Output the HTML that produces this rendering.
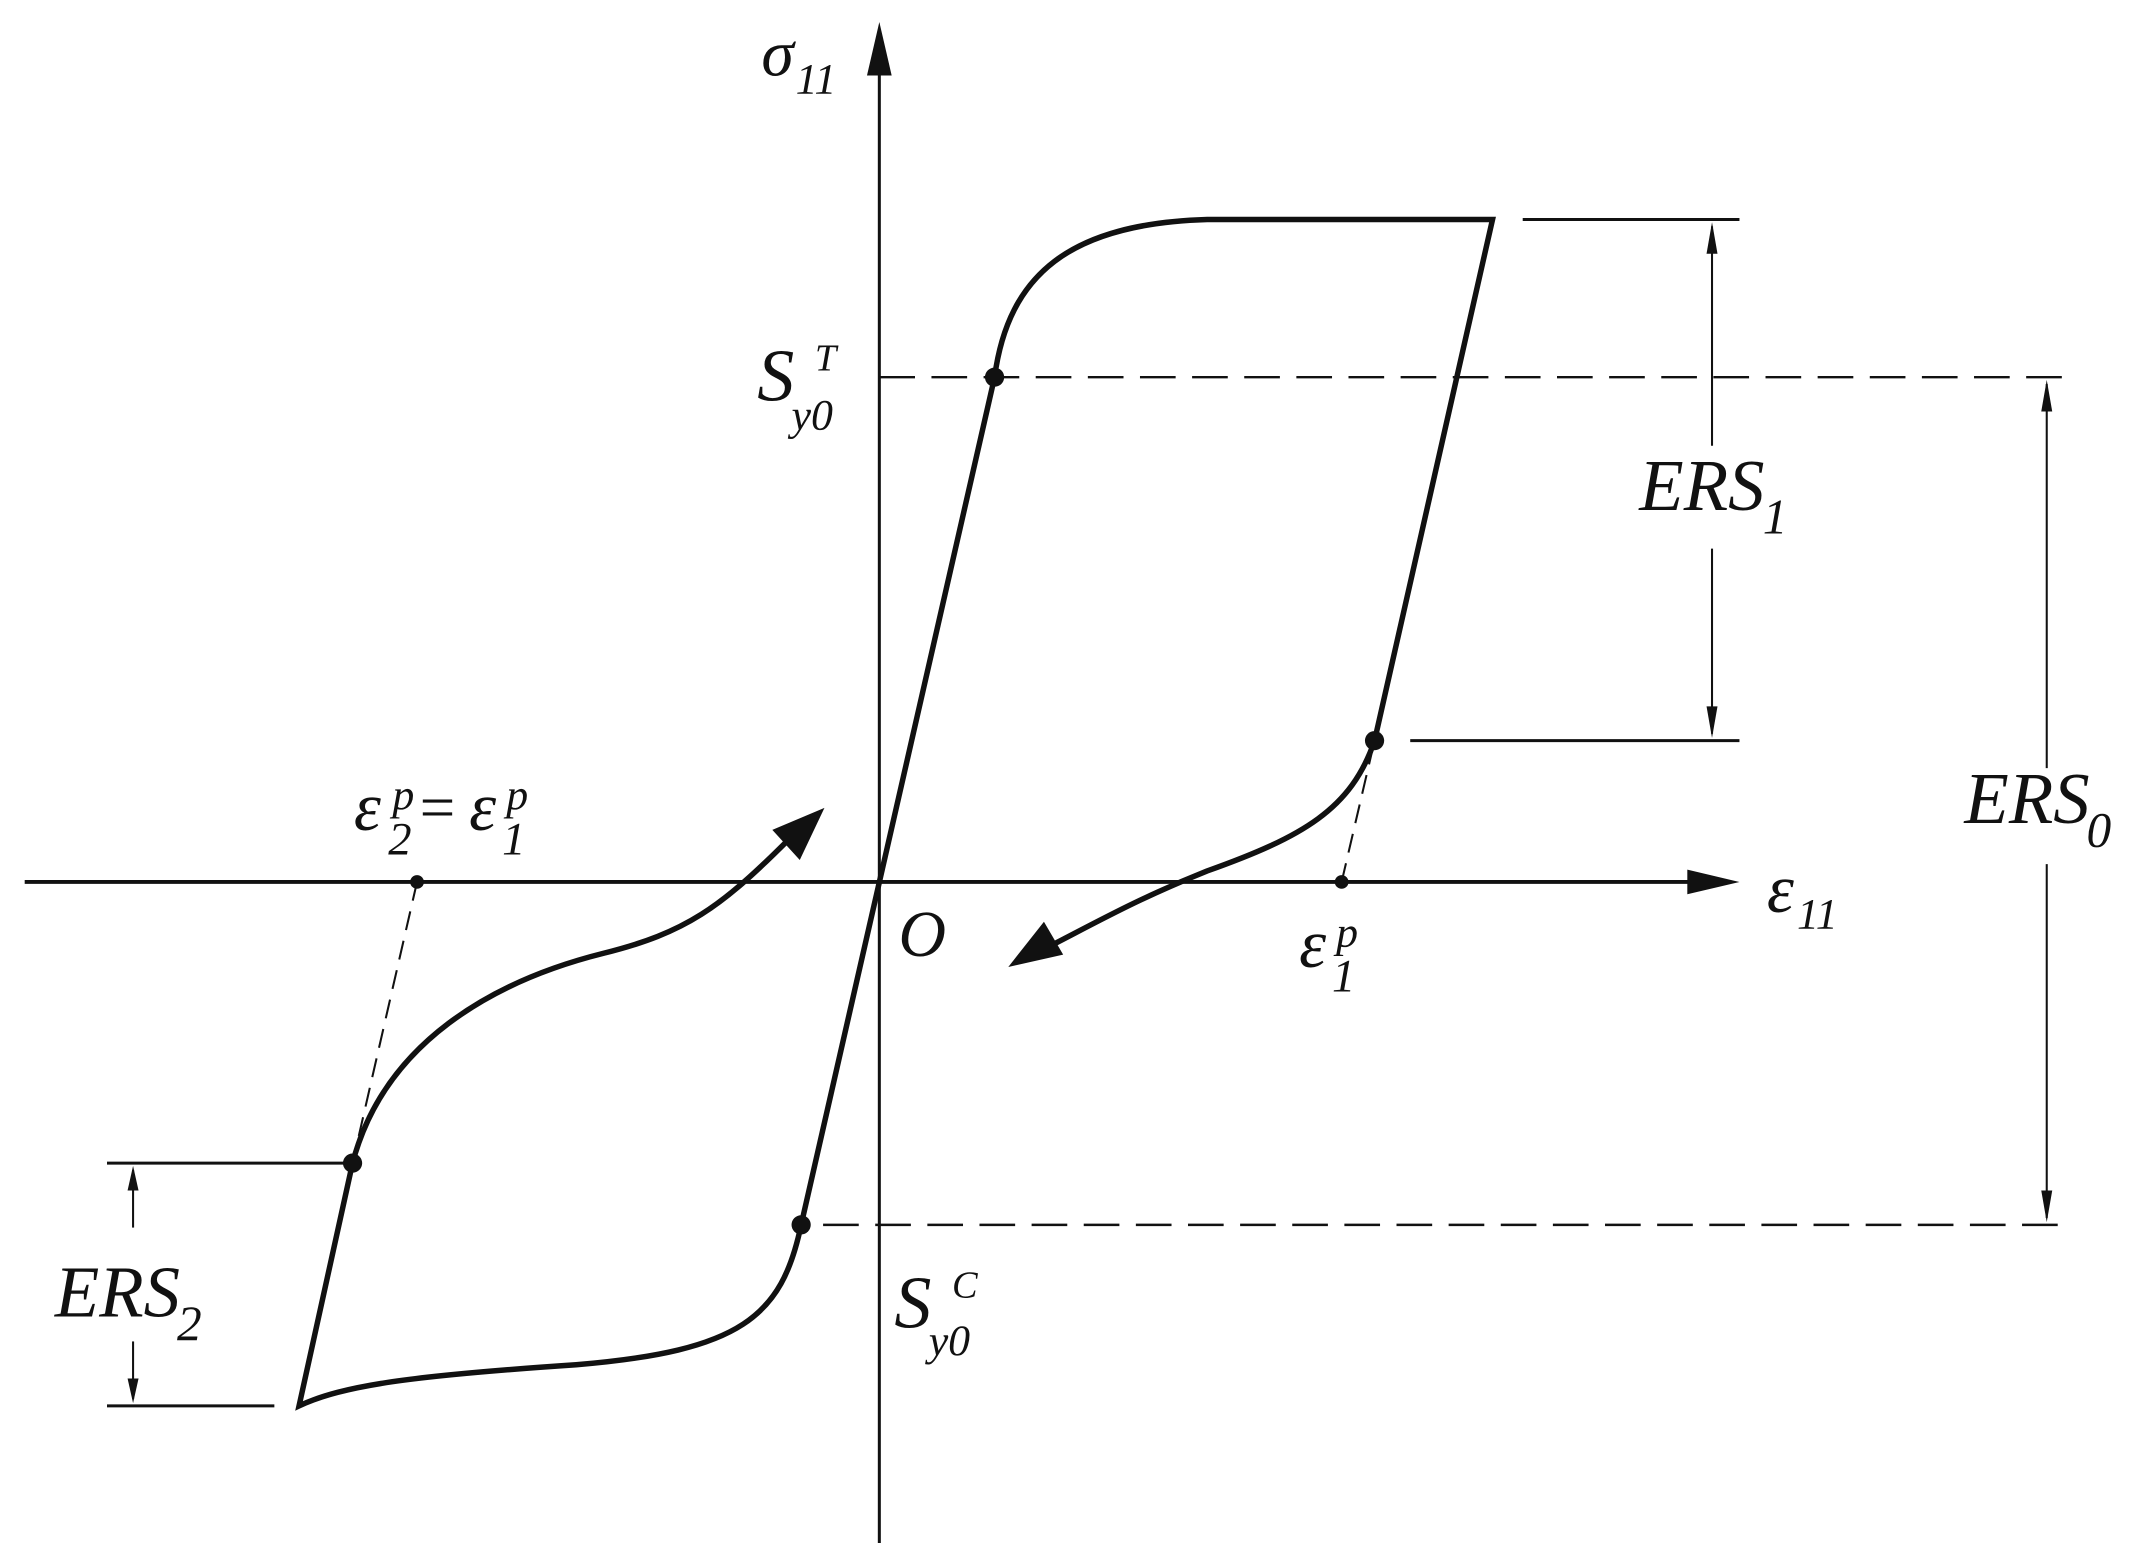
<!DOCTYPE html>
<html><head><meta charset="utf-8"><style>
html,body{margin:0;padding:0;background:#fff;}
svg{display:block;}
text{font-family:"Liberation Serif",serif;font-style:italic;fill:#111;}
</style></head><body>
<svg width="2151" height="1565" viewBox="0 0 1568 1141" preserveAspectRatio="none" xmlns="http://www.w3.org/2000/svg">
<g stroke="#111" fill="none">
<line x1="641" y1="40" x2="641" y2="1125" stroke-width="2.2"/>
<line x1="18" y1="643" x2="1245" y2="643" stroke-width="2.8"/>
</g>
<polygon points="641,16 632,55 650,55" fill="#111"/>
<polygon points="1268,643 1230,634 1230,652" fill="#111"/>
<g stroke="#111" fill="none" stroke-width="4">
<line x1="584" y1="893" x2="725" y2="275"/>
<path d="M725,275 C735,200 780,163 880,160 L1088,160 L1002,540"/>
<path d="M584,893 C570,960 540,985 420,995 C300,1003 250,1010 218,1025 L257,848"/>
<path d="M257,848 C280,760 360,715 440,695 C500,680 525,662 575,612"/>
<path d="M1002,540 C985,590 950,610 880,635 C830,655 800,672 765,690"/>
</g>
<polygon points="601,589 563,605 583,627" fill="#111"/>
<polygon points="735,705 761,672 775,696" fill="#111"/>
<g stroke="#111" fill="none" stroke-width="1.5" stroke-dasharray="14,8">
<line x1="304" y1="643" x2="257" y2="848"/>
<line x1="978" y1="643" x2="1002" y2="540"/>
</g>
<g stroke="#111" fill="none" stroke-width="1.8" stroke-dasharray="26,12">
<line x1="641" y1="275" x2="1505" y2="275"/>
<line x1="600" y1="893" x2="1505" y2="893"/>
</g>
<g stroke="#111" stroke-width="2.2">
<line x1="1110" y1="160" x2="1268" y2="160"/>
<line x1="1028" y1="540" x2="1268" y2="540"/>
<line x1="78" y1="848" x2="258" y2="848"/>
<line x1="78" y1="1025" x2="200" y2="1025"/>
<line x1="1248" y1="165" x2="1248" y2="325" stroke-width="1.5"/>
<line x1="1248" y1="400" x2="1248" y2="535" stroke-width="1.5"/>
<line x1="1492" y1="280" x2="1492" y2="560" stroke-width="1.5"/>
<line x1="1492" y1="630" x2="1492" y2="888" stroke-width="1.5"/>
<line x1="97" y1="853" x2="97" y2="895" stroke-width="1.5"/>
<line x1="97" y1="978" x2="97" y2="1020" stroke-width="1.5"/>
</g>
<g fill="#111">
<polygon points="1248,162 1244,185 1252,185"/>
<polygon points="1248,538 1244,515 1252,515"/>
<polygon points="1492,277 1488,300 1496,300"/>
<polygon points="1492,891 1488,868 1496,868"/>
<polygon points="97,850 93,868 101,868"/>
<polygon points="97,1023 93,1005 101,1005"/>
<circle cx="725" cy="275" r="7"/>
<circle cx="1002" cy="540" r="7"/>
<circle cx="978" cy="643" r="5"/>
<circle cx="304" cy="643" r="5"/>
<circle cx="257" cy="848" r="7"/>
<circle cx="584" cy="893" r="7"/>
</g>
<text x="555" y="55" font-size="48">σ</text><text x="580" y="68" font-size="32">11</text>
<text x="552" y="292" font-size="54">S</text><text x="594" y="270" font-size="28">T</text><text x="577" y="313" font-size="32">y0</text>
<text x="652" y="968" font-size="54">S</text><text x="694" y="946" font-size="28">C</text><text x="677" y="988" font-size="32">y0</text>
<text x="1195" y="372" font-size="53">ERS</text><text x="1285" y="389" font-size="36">1</text>
<text x="1432" y="600" font-size="53">ERS</text><text x="1521" y="617" font-size="36">0</text>
<text x="40" y="960" font-size="53">ERS</text><text x="129" y="977" font-size="36">2</text>
<text x="258" y="605" font-size="50">ε</text><text x="283" y="623" font-size="34">2</text><text x="286" y="590" font-size="32">p</text>
<text x="303" y="604" font-size="46">=</text>
<text x="342" y="605" font-size="50">ε</text><text x="366" y="623" font-size="34">1</text><text x="369" y="590" font-size="32">p</text>
<text x="655" y="697" font-size="48">O</text>
<text x="947" y="705" font-size="50">ε</text><text x="971" y="723" font-size="34">1</text><text x="974" y="690" font-size="32">p</text>
<text x="1288" y="665" font-size="50">ε</text><text x="1310" y="677" font-size="32">11</text>
</svg>
</body></html>
